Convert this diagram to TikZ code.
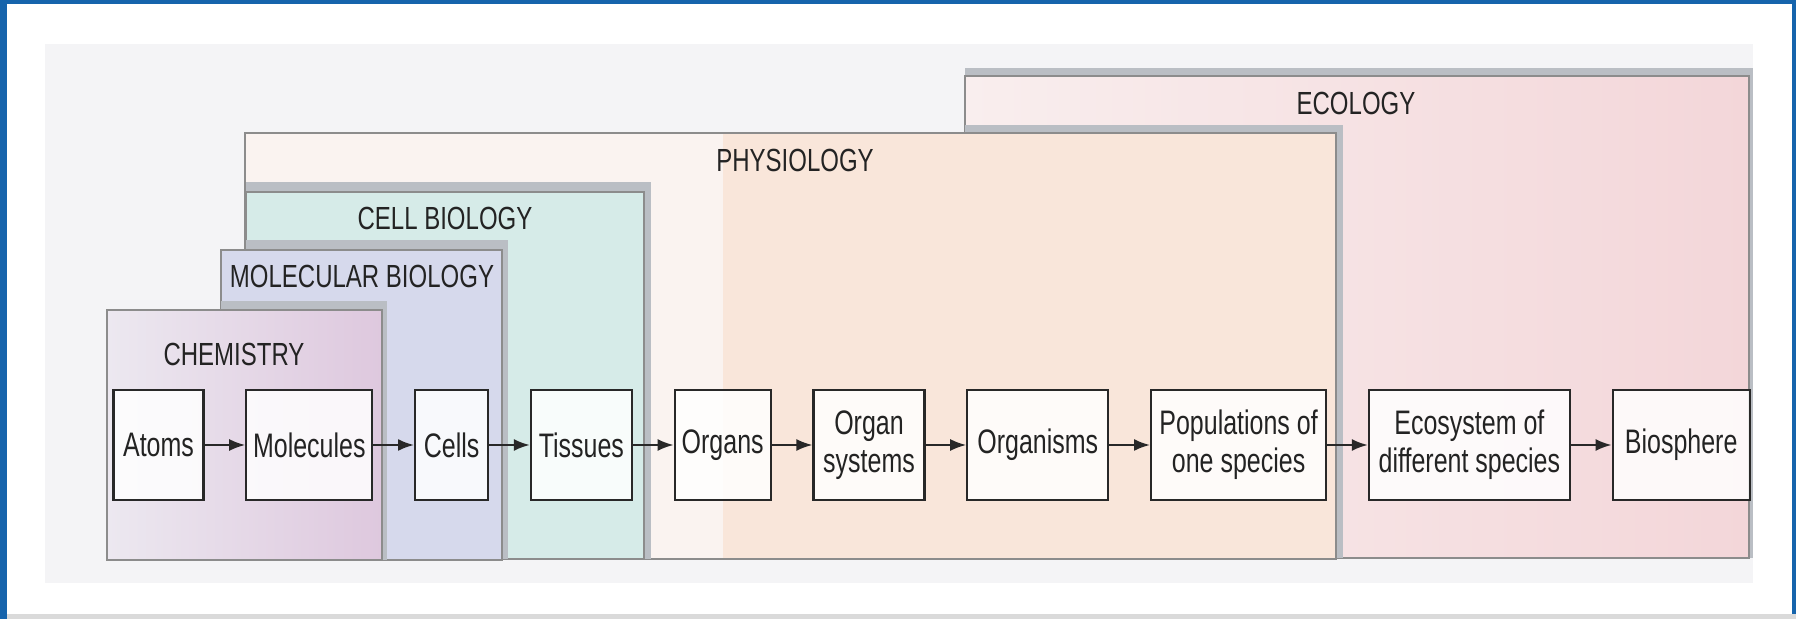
\documentclass[tikz,border=0pt]{standalone}
\usepackage{fontspec}
\setmainfont{Liberation Sans}[FakeStretch=0.75]
\newfontfamily\stagefont{Liberation Sans}[FakeStretch=0.735]
\usetikzlibrary{arrows.meta,positioning}

\definecolor{frameblue}{RGB}{22,100,172}
\definecolor{framegray}{RGB}{218,218,218}
\definecolor{photobg}{RGB}{244,244,246}
\definecolor{chemL}{RGB}{236,232,240}
\definecolor{chemR}{RGB}{222,200,222}
\definecolor{molbio}{RGB}{214,217,236}
\definecolor{cellbio}{RGB}{214,235,232}
\definecolor{physio}{RGB}{249,230,218}
\definecolor{physiolight}{RGB}{250,243,240}
\definecolor{ecoL}{RGB}{249,238,238}
\definecolor{ecoR}{RGB}{243,214,217}
\definecolor{shadegray}{RGB}{186,190,196}
\definecolor{areaedge}{RGB}{140,140,140}
\definecolor{boxedge}{RGB}{40,40,40}
\definecolor{inkgray}{RGB}{35,35,35}

\begin{document}
\begin{tikzpicture}[x=0.5pt,y=0.5pt,yscale=-1,xscale=1,
  area/.style={draw=areaedge, line width=0.6pt},
  areashadow/.style={fill=shadegray},
  arealabel/.style={text=inkgray, font=\fontsize{16}{19}\selectfont, inner sep=0pt},
  stage/.style={draw=boxedge, line width=1.1pt, fill=white, fill opacity=0.85, text opacity=1,
    text=inkgray, font=\stagefont\fontsize{17}{19}\selectfont, align=center,
    minimum height=55pt, inner sep=2pt},
  flow/.style={-{Latex[length=8pt,width=6pt]}, line width=1pt, draw=boxedge},
  node distance=20.3pt]
\useasboundingbox (0,0) rectangle (1796,619);

% frame
\fill[frameblue] (0,0) rectangle (1796,619);
\fill[white] (7,4) rectangle (1792,619);
\fill[framegray] (7,614) rectangle (1796,619);
\fill[photobg] (45,44) rectangle (1753,583);

% ecology
\fill[areashadow] (965,68) rectangle (1753,558);
\shade[left color=ecoL, middle color=ecoR, right color=ecoR] (965,76) rectangle (1749,558);
\draw[area] (965,76) rectangle (1749,558);

% physiology
\begin{scope}
  \clip (965,76) rectangle (1749,558);
  \fill[areashadow] (245,125) rectangle (1343,559);
\end{scope}
\fill[physio] (245,133) rectangle (1336,559);
\fill[physiolight] (245,133) rectangle (723,559);
\draw[area] (245,133) rectangle (1336,559);

% cell biology
\begin{scope}
  \clip (245,133) rectangle (1336,559);
  \fill[areashadow] (246,182) rectangle (651,559);
\end{scope}
\fill[cellbio] (246,192) rectangle (644,559);
\draw[area] (246,192) rectangle (644,559);

% molecular biology
\begin{scope}
  \clip (246,192) rectangle (644,559);
  \fill[areashadow] (221,240) rectangle (508,560);
\end{scope}
\fill[molbio] (221,250) rectangle (502,560);
\draw[area] (221,250) rectangle (502,560);

% chemistry
\begin{scope}
  \clip (221,250) rectangle (502,560);
  \fill[areashadow] (107,301) rectangle (387,560);
\end{scope}
\shade[left color=chemL, right color=chemR] (107,310) rectangle (382,560);
\draw[area] (107,310) rectangle (382,560);

% area labels
\node[arealabel] (ecolabel) at (1356,103) {ECOLOGY};
\node[arealabel] (physiolabel) at (795,160) {PHYSIOLOGY};
\node[arealabel] (celllabel) at (445,218) {CELL BIOLOGY};
\node[arealabel] (mollabel) at (362,276) {MOLECULAR BIOLOGY};
\node[arealabel] (chemlabel) at (234,354) {CHEMISTRY};

% levels
\node[stage, minimum width=45pt] (atoms) at (158.5,445) {Atoms};
\node[stage, minimum width=63pt, right=of atoms] (molecules) {Molecules};
\node[stage, minimum width=36.5pt, right=of molecules] (cells) {Cells};
\node[stage, minimum width=50.5pt, right=of cells] (tissues) {Tissues};
\node[stage, minimum width=48pt, right=of tissues] (organs) {Organs};
\node[stage, minimum width=55.5pt, right=of organs] (orgsys) {Organ\\systems};
\node[stage, minimum width=70.5pt, right=of orgsys] (organisms) {Organisms};
\node[stage, minimum width=87.5pt, right=of organisms] (populations) {Populations of\\one species};
\node[stage, minimum width=100.5pt, right=of populations] (ecosystem) {Ecosystem of\\different species};
\node[stage, minimum width=68.5pt, right=of ecosystem] (biosphere) {Biosphere};

\draw[flow] (atoms) -- (molecules);
\draw[flow] (molecules) -- (cells);
\draw[flow] (cells) -- (tissues);
\draw[flow] (tissues) -- (organs);
\draw[flow] (organs) -- (orgsys);
\draw[flow] (orgsys) -- (organisms);
\draw[flow] (organisms) -- (populations);
\draw[flow] (populations) -- (ecosystem);
\draw[flow] (ecosystem) -- (biosphere);

\end{tikzpicture}
\end{document}
